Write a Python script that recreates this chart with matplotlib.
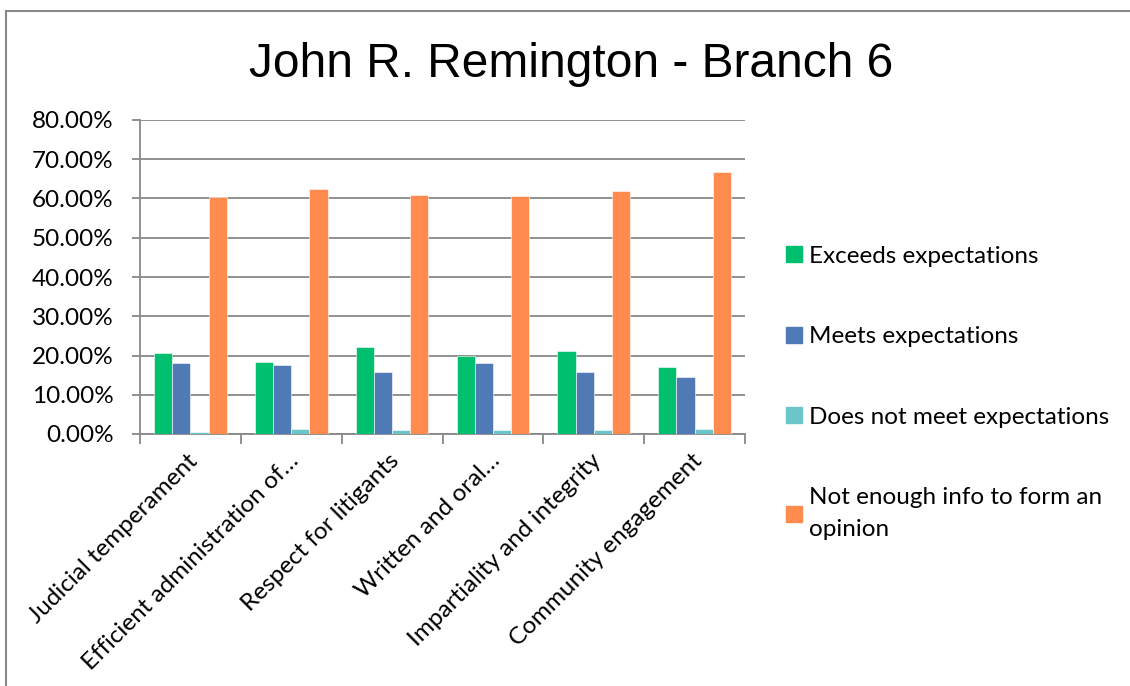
import matplotlib
matplotlib.use("Agg")
import matplotlib.pyplot as plt
from matplotlib.lines import Line2D
from matplotlib.ticker import FuncFormatter, MultipleLocator
import numpy as np

categories = [
    "Judicial temperament",
    "Efficient administration of…",
    "Respect for litigants",
    "Written and oral…",
    "Impartiality and integrity",
    "Community engagement",
]
series_names = [
    "Exceeds expectations",
    "Meets expectations",
    "Does not meet expectations",
    "Not enough info to form an\nopinion",
]
exceeds = [20.6, 18.4, 22.1, 20.0, 21.1, 17.0]
meets = [18.1, 17.5, 15.8, 18.1, 15.8, 14.5]
does_not = [0.6, 1.3, 0.9, 0.9, 0.9, 1.3]
not_enough = [60.5, 62.5, 61.0, 60.6, 61.9, 66.8]

colors = ["#00BF6F", "#4F7AB5", "#6BC5C9", "#FF8B4F"]
grid_col = "#888888"
label_font = ["Lato", "DejaVu Sans"]
fs = 17.5

fig = plt.figure(figsize=(11.3, 6.86), dpi=100)
W, H = 1130, 686
ax = fig.add_axes([140 / W, 1 - 434 / H, (745 - 140) / W, (434 - 120) / H])

x = np.arange(len(categories))
width = 0.18
all_series = [exceeds, meets, does_not, not_enough]
for i, (vals, col) in enumerate(zip(all_series, colors)):
    ax.bar(x + (i - 1.5) * width, vals, width, color=col, zorder=3,
           edgecolor="white", linewidth=0.4)

ax.set_xlim(-0.5, len(categories) - 0.5)
ax.set_ylim(0, 80)
ax.yaxis.set_major_locator(MultipleLocator(10))
ax.yaxis.set_major_formatter(FuncFormatter(lambda v, _: f"{v:.2f}%"))
ax.grid(axis="y", color=grid_col, linewidth=1.3, zorder=0)

for side in ("top", "right"):
    ax.spines[side].set_visible(False)
for side in ("left", "bottom"):
    ax.spines[side].set_color(grid_col)
    ax.spines[side].set_linewidth(1.3)

# category boundary ticks below the axis
ax.set_xticks(np.arange(-0.5, len(categories)))
ax.set_xticklabels([])
ax.tick_params(axis="x", length=7, width=1.3, color=grid_col)
ax.tick_params(axis="y", length=6, width=1.3, color=grid_col, pad=13,
               labelsize=fs)
for lbl in ax.get_yticklabels():
    lbl.set_fontfamily(label_font)

for xi, cat in zip(x, categories):
    ax.text(xi + 0.04, -6.0, cat, rotation=45, ha="right", va="center",
            rotation_mode="anchor", fontsize=fs, family=label_font,
            clip_on=False)

fig.text(0.505, 1 - 77 / H, "John R. Remington - Branch 6", ha="center",
         va="baseline", fontsize=34.5,
         family=["Liberation Sans", "DejaVu Sans"])

handles = [Line2D([], [], marker="s", linestyle="none", markersize=11,
                  markerfacecolor=c, markeredgecolor=c) for c in colors]
leg = fig.legend(handles, series_names, loc="upper left",
                 bbox_to_anchor=(777 / W, 1 - 236 / H), frameon=False,
                 prop={"family": label_font, "size": fs},
                 handlelength=0.6, handletextpad=0.3, labelspacing=2.45,
                 borderaxespad=0)
for t in leg.get_texts():
    t.set_linespacing(1.6)

# chart border (top and left edges visible)
fig.add_artist(Line2D([6 / W, 1], [1 - 11 / H, 1 - 11 / H], color=grid_col,
                      linewidth=1.5, transform=fig.transFigure))
fig.add_artist(Line2D([6 / W, 6 / W], [0, 1 - 11 / H], color=grid_col,
                      linewidth=1.5, transform=fig.transFigure))

fig.savefig("out.png", dpi=100)
